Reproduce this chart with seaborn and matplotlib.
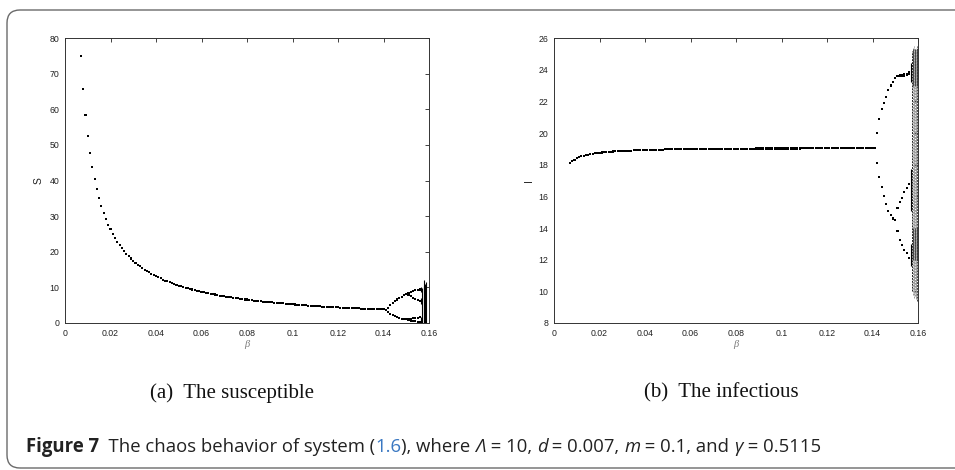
import matplotlib
matplotlib.use("Agg")
import matplotlib.pyplot as plt
import matplotlib.transforms as mtransforms
from matplotlib.patches import FancyBboxPatch
import seaborn as sns
import pandas as pd

# parameter sweep (beta) of the stable branch
beta = [0.007, 0.008, 0.009, 0.010, 0.011, 0.012, 0.013, 0.014, 0.015, 0.016,
        0.017, 0.018, 0.019, 0.020, 0.021, 0.022, 0.023, 0.024, 0.025, 0.026,
        0.027, 0.028, 0.029, 0.030, 0.031, 0.032, 0.033, 0.034, 0.035, 0.036,
        0.037, 0.038, 0.039, 0.040, 0.041, 0.042, 0.043, 0.044, 0.045, 0.046,
        0.047, 0.048, 0.049, 0.050, 0.051, 0.052, 0.053, 0.054, 0.055, 0.056,
        0.057, 0.058, 0.059, 0.060, 0.061, 0.062, 0.063, 0.064, 0.065, 0.066,
        0.067, 0.068, 0.069, 0.070, 0.071, 0.072, 0.073, 0.074, 0.075, 0.076,
        0.077, 0.078, 0.079, 0.080, 0.081, 0.082, 0.083, 0.084, 0.085, 0.086,
        0.087, 0.088, 0.089, 0.090, 0.091, 0.092, 0.093, 0.094, 0.095, 0.096,
        0.097, 0.098, 0.099, 0.100, 0.101, 0.102, 0.103, 0.104, 0.105, 0.106,
        0.107, 0.108, 0.109, 0.110, 0.111, 0.112, 0.113, 0.114, 0.115, 0.116,
        0.117, 0.118, 0.119, 0.120, 0.121, 0.122, 0.123, 0.124, 0.125, 0.126,
        0.127, 0.128, 0.129, 0.130, 0.131, 0.132, 0.133, 0.134, 0.135, 0.136,
        0.137, 0.138, 0.139, 0.140, 0.141]

s_main = [75.0, 65.6, 58.3, 52.5, 47.7, 43.8, 40.4, 37.5, 35.0, 32.8,
          30.9, 29.2, 27.6, 26.3, 25.0, 23.9, 22.8, 21.9, 21.0, 20.2,
          19.4, 18.8, 18.1, 17.5, 16.9, 16.4, 15.9, 15.4, 15.0, 14.6,
          14.2, 13.8, 13.5, 13.1, 12.8, 12.5, 12.2, 11.9, 11.7, 11.4,
          11.2, 10.9, 10.7, 10.5, 10.3, 10.1, 9.9, 9.7, 9.5, 9.4,
          9.2, 9.1, 8.9, 8.8, 8.6, 8.5, 8.3, 8.2, 8.1, 8.0,
          7.8, 7.7, 7.6, 7.5, 7.4, 7.3, 7.2, 7.1, 7.0, 6.9,
          6.8, 6.7, 6.6, 6.6, 6.5, 6.4, 6.3, 6.3, 6.2, 6.1,
          6.0, 6.0, 5.9, 5.8, 5.8, 5.7, 5.6, 5.6, 5.5, 5.5,
          5.4, 5.4, 5.3, 5.3, 5.2, 5.1, 5.1, 5.0, 5.0, 5.0,
          4.9, 4.9, 4.8, 4.8, 4.7, 4.7, 4.6, 4.6, 4.6, 4.5,
          4.5, 4.4, 4.4, 4.4, 4.3, 4.3, 4.3, 4.2, 4.2, 4.2,
          4.1, 4.1, 4.1, 4.0, 4.0, 4.0, 3.9, 3.9, 3.9, 3.9,
          3.8, 3.8, 3.8, 3.8, 3.7]

i_main = [18.10, 18.23, 18.32, 18.40, 18.46, 18.52, 18.56, 18.60, 18.63, 18.66,
          18.69, 18.71, 18.73, 18.75, 18.77, 18.78, 18.80, 18.81, 18.82, 18.83,
          18.84, 18.85, 18.86, 18.87, 18.87, 18.88, 18.89, 18.89, 18.90, 18.91,
          18.91, 18.92, 18.92, 18.93, 18.93, 18.93, 18.94, 18.94, 18.94, 18.95,
          18.95, 18.95, 18.96, 18.96, 18.96, 18.97, 18.97, 18.97, 18.97, 18.98,
          18.98, 18.98, 18.98, 18.98, 18.99, 18.99, 18.99, 18.99, 18.99, 18.99,
          19.00, 19.00, 19.00, 19.00, 19.00, 19.00, 19.00, 19.00, 19.01, 19.01,
          19.01, 19.01, 19.01, 19.01, 19.01, 19.01, 19.01, 19.01, 19.01, 19.01,
          19.01, 19.01, 19.02, 19.02, 19.02, 19.02, 19.02, 19.02, 19.02, 19.02,
          19.02, 19.02, 19.02, 19.02, 19.02, 19.02, 19.02, 19.02, 19.02, 19.02,
          19.02, 19.02, 19.03, 19.03, 19.03, 19.03, 19.03, 19.03, 19.03, 19.03,
          19.03, 19.03, 19.03, 19.03, 19.03, 19.03, 19.03, 19.03, 19.03, 19.03,
          19.03, 19.03, 19.04, 19.04, 19.04, 19.04, 19.04, 19.04, 19.04, 19.04,
          19.04, 19.04, 19.04, 19.05, 19.05]

# period-2 window
beta_p2 = [0.142, 0.143, 0.144, 0.145, 0.146, 0.147, 0.148, 0.149, 0.150]
s_p2_hi = [4.3, 5.0, 5.6, 6.1, 6.6, 7.0, 7.4, 7.8, 8.1]
s_p2_lo = [3.1, 2.6, 2.2, 1.9, 1.6, 1.4, 1.2, 1.1, 1.0]
i_p2_hi = [20.0, 20.9, 21.5, 21.9, 22.3, 22.7, 23.0, 23.25, 23.45]
i_p2_lo = [18.1, 17.2, 16.6, 16.0, 15.5, 15.1, 14.8, 14.6, 14.5]

# period-4 window
beta_p4 = [0.151, 0.152, 0.153, 0.154, 0.155, 0.156]
s_p4 = [[8.5, 8.8, 9.0, 9.2, 9.3, 9.4],
        [8.0, 7.5, 7.1, 6.7, 6.4, 6.1],
        [1.1, 1.2, 1.3, 1.4, 1.5, 1.6],
        [0.8, 0.7, 0.6, 0.5, 0.4, 0.35]]
i_p4 = [[23.58, 23.60, 23.60, 23.62, 23.65, 23.70],
        [23.62, 23.66, 23.68, 23.70, 23.75, 23.85],
        [15.25, 15.65, 15.90, 16.30, 16.50, 16.80],
        [13.80, 13.25, 12.90, 12.60, 12.40, 12.10]]

# short bands just before chaos
s_band_beta = [0.1567, 0.1567, 0.1567]
s_band_lo = [8.6, 5.4, 0.0]
s_band_hi = [10.0, 6.9, 1.8]
i_band_beta = [0.1568, 0.1568, 0.1568]
i_band_lo = [23.2, 15.1, 11.6]
i_band_hi = [24.4, 17.7, 13.0]

# chaotic region (min / max per beta column)
s_chaos_beta = [0.1571, 0.1576, 0.1580, 0.1584, 0.1589]
s_chaos_lo = [0.0, 0.0, 0.0, 0.0, 0.0]
s_chaos_hi = [9.8, 10.5, 12.1, 11.0, 11.6]
i_chaos_beta = [0.1575, 0.1578, 0.1581, 0.1584, 0.1587, 0.1590, 0.1593, 0.1596]
i_chaos_lo = [10.0, 9.8, 9.9, 9.6, 9.7, 9.5, 9.6, 9.4]
i_chaos_hi = [25.2, 25.4, 25.3, 25.5, 25.3, 25.4, 25.2, 25.5]

x_ticks = [0, 0.02, 0.04, 0.06, 0.08, 0.1, 0.12, 0.14, 0.16]
x_labels = ["0", "0.02", "0.04", "0.06", "0.08", "0.1", "0.12", "0.14", "0.16"]
s_ticks = [0, 10, 20, 30, 40, 50, 60, 70, 80]
i_ticks = [8, 10, 12, 14, 16, 18, 20, 22, 24, 26]

sns.set_style("white")
plt.rcParams["font.family"] = ["Liberation Sans", "DejaVu Sans"]

W, H = 955, 470
fig = plt.figure(figsize=(W / 100, H / 100), dpi=100)

# rounded frame around the figure
frame = FancyBboxPatch((7, 2), 1000, 458, boxstyle="round,pad=0,rounding_size=13",
                       transform=mtransforms.IdentityTransform(),
                       facecolor="none", edgecolor="#6a6a6a", linewidth=1.0)
fig.patches.append(frame)


def points(ax, xs, ys):
    df = pd.DataFrame({"beta": xs, "val": ys})
    sns.scatterplot(data=df, x="beta", y="val", ax=ax, s=2.2, marker="s",
                    color="black", linewidth=0, edgecolor="none")


def style_axis(ax, yticks, ylabel, ylim, labelpad):
    ax.set_xlim(0, 0.16)
    ax.set_ylim(*ylim)
    ax.set_xticks(x_ticks)
    ax.set_xticklabels(x_labels)
    ax.set_yticks(yticks)
    ax.set_yticklabels([str(t) for t in yticks])
    ax.tick_params(direction="in", length=3, width=0.6, top=True, right=True,
                   labelsize=6.3, pad=4, colors="#222222")
    for sp in ax.spines.values():
        sp.set_color("#333333")
        sp.set_linewidth(0.7)
    ax.set_xlabel("β", fontsize=7.5, color="#777777", style="italic",
                  family="Liberation Serif", labelpad=2)
    ax.set_ylabel(ylabel, fontsize=7.5, labelpad=labelpad, color="#222222")


ax1 = fig.add_axes([65 / W, 1 - 323 / H, 364 / W, 285 / H])
points(ax1, beta, s_main)
points(ax1, beta_p2 + beta_p2, s_p2_hi + s_p2_lo)
for branch in s_p4:
    points(ax1, beta_p4, branch)
ax1.vlines(s_band_beta, s_band_lo, s_band_hi, color="black", linewidth=0.8)
ax1.vlines(s_chaos_beta, s_chaos_lo, s_chaos_hi, color="black", linewidth=0.8)
style_axis(ax1, s_ticks, "S", (0, 80), 4)

ax2 = fig.add_axes([554 / W, 1 - 323 / H, 364 / W, 285 / H])
points(ax2, beta, i_main)
points(ax2, beta_p2 + beta_p2, i_p2_hi + i_p2_lo)
for branch in i_p4:
    points(ax2, beta_p4, branch)
ax2.vlines(i_band_beta, i_band_lo, i_band_hi, color="black", linewidth=0.8)
chaos_cols = ["#222222"] + ["#9a9a9a"] * (len(i_chaos_beta) - 2) + ["#444444"]
ax2.vlines(i_chaos_beta, i_chaos_lo, i_chaos_hi, colors=chaos_cols,
           linewidth=0.7, linestyles=[(0, (2, 1))] * len(i_chaos_beta))
ax2.vlines(i_chaos_beta[1::3], 23.0, 25.3, color="#333333", linewidth=0.6)
ax2.vlines(i_chaos_beta[1::3], 12.0, 14.0, color="#333333", linewidth=0.6)
style_axis(ax2, i_ticks, "I", (8, 26), 3)

# sub captions
fig.text(232 / W, 1 - 393 / H, "(a)  The susceptible", family="Liberation Serif",
         fontsize=15, ha="center", va="center", color="#111111")
fig.text(721 / W, 1 - 393 / H, "(b)  The infectious", family="Liberation Serif",
         fontsize=15, ha="center", va="center", color="#111111")

# main caption built from pieces
renderer = fig.canvas.get_renderer()
parts = [("Figure 7", dict(weight="bold")),
         ("  The chaos behavior of system (", {}),
         ("1.6", dict(color="#3a78c2")),
         ("), where ", {}),
         ("Λ", dict(style="italic")),
         (" = 10, ", {}),
         ("d", dict(style="italic")),
         (" = 0.007, ", {}),
         ("m", dict(style="italic")),
         (" = 0.1, and ", {}),
         ("γ", dict(style="italic")),
         (" = 0.5115", {})]


def piece_width(s, size, kw):
    t1 = fig.text(0, 0, s + "|", family=["Open Sans", "DejaVu Sans"], fontsize=size, **kw)
    t2 = fig.text(0, 0, "|", family=["Open Sans", "DejaVu Sans"], fontsize=size, **kw)
    w = t1.get_window_extent(renderer).width - t2.get_window_extent(renderer).width
    t1.remove()
    t2.remove()
    return w


size = 11.0
total = sum(piece_width(s, size, {k: v for k, v in kw.items() if k != "color"})
            for s, kw in parts)
size = size * 796 / total
x = 26.0
for s, kw in parts:
    kw = dict(kw)
    color = kw.pop("color", "#222222")
    fig.text(x / W, 1 - 452 / H, s, family=["Open Sans", "DejaVu Sans"], fontsize=size,
             va="baseline", color=color, **kw)
    x += piece_width(s, size, kw)

fig.savefig("out.png", dpi=100)
